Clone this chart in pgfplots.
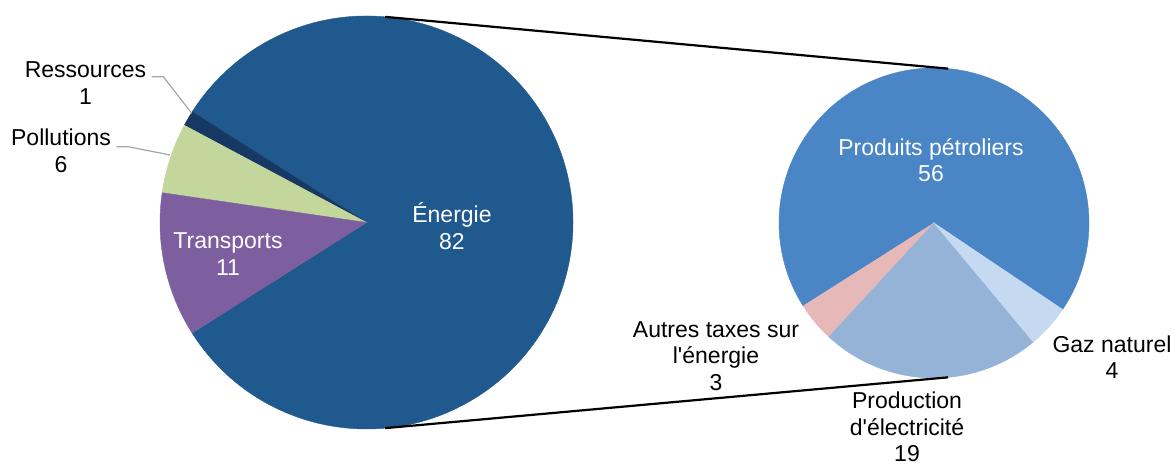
\documentclass[border=0pt]{standalone}
\usepackage{pgfplots}
\pgfplotsset{compat=1.18}
\usepackage{pgfplotstable}
\usepackage{fontspec}
\setmainfont{Liberation Sans}
\definecolor{cEn}{RGB}{31,89,142}
\definecolor{cRe}{RGB}{23,56,98}
\definecolor{cPo}{RGB}{195,214,155}
\definecolor{cTr}{RGB}{125,95,160}
\definecolor{cPP}{RGB}{74,134,198}
\definecolor{cAu}{RGB}{230,185,184}
\definecolor{cEl}{RGB}{149,179,215}
\definecolor{cGa}{RGB}{197,217,241}
\definecolor{leader}{RGB}{165,165,165}

% main pie: share of each category
\pgfplotstableread{
val col
82 cEn
1.2 cRe
5.5 cPo
11.3 cTr
}\leftdata
% secondary pie: breakdown of Energie (total 82)
\pgfplotstableread{
val col
56.1 cPP
3.4 cAu
18.8 cEl
3.7 cGa
}\rightdata

\newcommand\drawpie[6]{% table, cx, cy, r, start angle, total
  \pgfplotstablegetrowsof{#1}%
  \pgfmathtruncatemacro\nrows{\pgfplotsretval-1}%
  \xdef\curang{#5}%
  \foreach \i in {0,...,\nrows}{%
    \pgfplotstablegetelem{\i}{val}\of{#1}\let\sv\pgfplotsretval
    \pgfplotstablegetelem{\i}{col}\of{#1}\let\sc\pgfplotsretval
    \pgfmathsetmacro\da{\sv/#6*360}%
    \filldraw[fill=\sc, draw=\sc, line width=0.2pt] (axis cs:#2,#3) -- (axis cs:{#2+#4*cos(\curang)},{#3+#4*sin(\curang)}) arc[start angle=\curang, delta angle=\da, radius={#4*0.5pt}] -- cycle;
    \pgfmathsetmacro\na{\curang+\da}\global\let\curang\na
  }%
}
\newcommand\lab{\fontsize{11.5}{13.3}\selectfont}
\tikzset{lbl/.style={align=center, font=\lab, inner sep=0pt}}

\begin{document}
\begin{tikzpicture}
\begin{axis}[name=ax, scale only axis, width=587pt, height=232pt,
  xmin=0, xmax=1174, ymin=0, ymax=464, hide axis, clip=false]
\pgfplotsextra{%
  \drawpie{\leftdata}{366.5}{241.5}{206.5}{-147.6}{100}
  \drawpie{\rightdata}{934}{241}{155}{-33.9}{82}
  \draw[line width=1.1pt, black] (axis cs:{366.5+206.5*cos(84.8)},{241.5+206.5*sin(84.8)}) -- (axis cs:{934+155*cos(84.8)},{241+155*sin(84.8)});
  \draw[line width=1.1pt, black] (axis cs:{366.5+206.5*cos(84.8)},{241.5-206.5*sin(84.8)}) -- (axis cs:{934+155*cos(84.8)},{241-155*sin(84.8)});
  \draw[leader, line width=0.6pt] (axis cs:151.7,387.3) -- (axis cs:163.3,387.3) -- (axis cs:191.7,350.7);
  \draw[leader, line width=0.6pt] (axis cs:116.7,317.3) -- (axis cs:128,317.3) -- (axis cs:170,309);
}
\node[lbl] at (axis cs:85.5,381) {Ressources\\1};
\node[lbl] at (axis cs:61,313) {Pollutions\\6};
\node[lbl, text=white] at (axis cs:228,210) {Transports\\11};
\node[lbl, text=white] at (axis cs:452,238) {Énergie\\82};
\node[lbl, text=white] at (axis cs:931,304) {Produits pétroliers\\56};
\node[lbl] at (axis cs:716,108) {Autres taxes sur\\l\textquotesingle énergie\\3};
\node[lbl] at (axis cs:1112,107) {Gaz naturel\\4};
\node[lbl] at (axis cs:907,37) {Production\\d\textquotesingle électricité\\19};
\end{axis}
\pgfresetboundingbox
\path (ax.south west) rectangle (ax.north east);
\end{tikzpicture}
\end{document}
